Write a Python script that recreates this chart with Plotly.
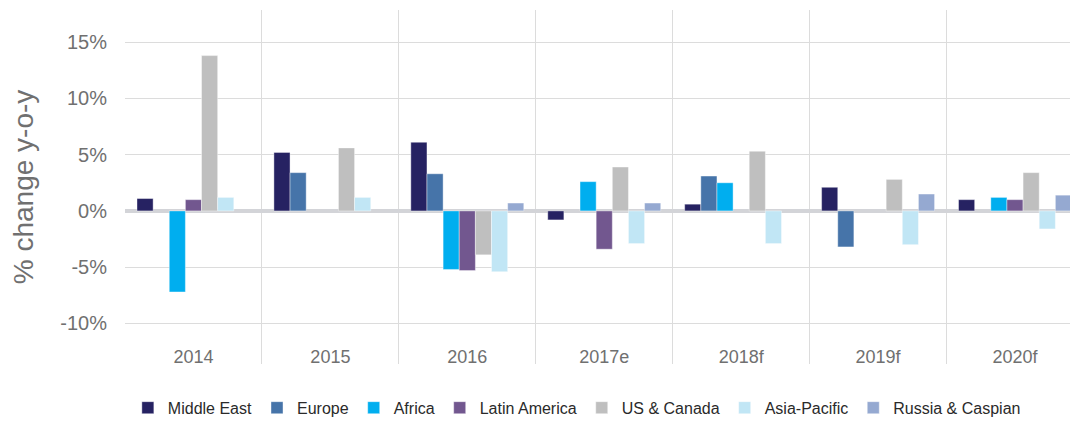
import plotly.graph_objects as go

categories = ["2014", "2015", "2016", "2017e", "2018f", "2019f", "2020f"]
middle_east = [1.1, 5.2, 6.1, -0.8, 0.6, 2.1, 1.0]
europe = [None, 3.4, 3.3, None, 3.1, -3.2, None]
africa = [-7.2, None, -5.2, 2.6, 2.5, None, 1.2]
latin_america = [1.0, None, -5.3, -3.4, None, None, 1.0]
us_canada = [13.8, 5.6, -3.9, 3.9, 5.3, 2.8, 3.4]
asia_pacific = [1.2, 1.2, -5.4, -2.9, -2.9, -3.0, -1.6]
russia_caspian = [None, None, 0.7, 0.7, None, 1.5, 1.4]

series_names = ["Middle East", "Europe", "Africa", "Latin America",
                "US & Canada", "Asia-Pacific", "Russia & Caspian"]
series_values = [middle_east, europe, africa, latin_america,
                 us_canada, asia_pacific, russia_caspian]
colors = ["#262262", "#4674a9", "#00aeef", "#72578f",
          "#bfbfbf", "#c1e6f5", "#95a9d1"]

FONT = "Liberation Sans, Arial, Helvetica, sans-serif"

fig = go.Figure()
for name, vals, col in zip(series_names, series_values, colors):
    fig.add_trace(go.Bar(
        x=categories, y=vals, name=name,
        marker=dict(color=col, line=dict(color="rgba(255,255,255,0.5)", width=0.8)),
    ))

# the page adds an 8px body margin, so the figure is 8px smaller and margins compensate
fig.update_layout(
    width=1070, height=413,
    margin=dict(l=117, r=0, t=2, b=57),
    paper_bgcolor="white", plot_bgcolor="white",
    barmode="group", bargap=0.175, bargroupgap=0,
    font=dict(family=FONT, color="#707070"),
    showlegend=True,
    legend=dict(orientation="h", x=0.003, xanchor="left",
                yref="container", y=0.032, yanchor="middle",
                font=dict(size=16, color="#2a2a2a", family=FONT),
                traceorder="normal", itemwidth=30),
    xaxis=dict(
        type="category", range=[-0.5, 6.46], tickson="boundaries",
        showgrid=True, gridcolor="#dcdcdc", gridwidth=1,
        ticks="", ticklabelposition="inside", ticklabelstandoff=-6,
        tickfont=dict(size=18, color="#707070"),
        showline=False, zeroline=False, automargin=False,
    ),
    yaxis=dict(
        range=[-13.6, 17.85], tickvals=[-10, -5, 0, 5, 10, 15],
        ticktext=["-10%", "-5%", "0%", "5%", "10%", "15%"],
        showgrid=True, gridcolor="#dcdcdc", gridwidth=1,
        zeroline=True, zerolinecolor="#d3d4d8", zerolinewidth=4,
        tickfont=dict(size=20, color="#707070"),
        ticklabelstandoff=17,
        title=dict(text="% change y-o-y", font=dict(size=28, color="#707070"), standoff=34),
        showline=False, automargin=False,
    ),
)

fig.write_html("out.html")
